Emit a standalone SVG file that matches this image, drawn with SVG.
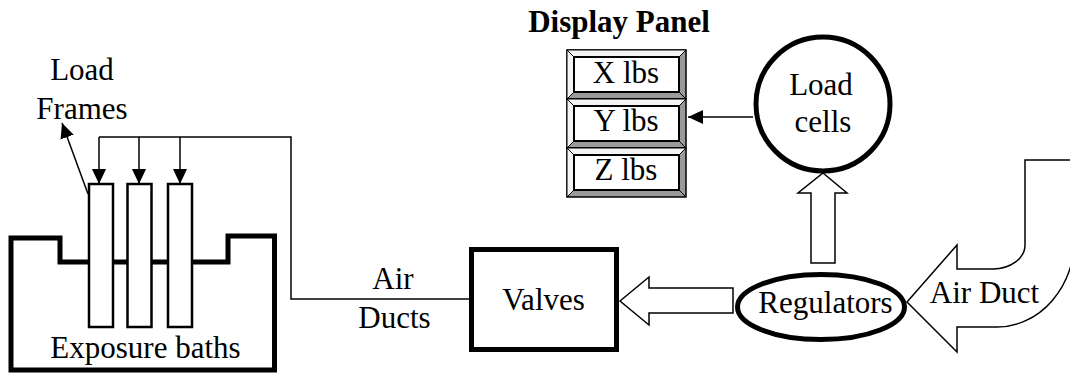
<svg xmlns="http://www.w3.org/2000/svg" width="1070" height="377" viewBox="0 0 1070 377">
<defs>
<style>
.t{font-family:"Liberation Serif","Times New Roman",serif;font-size:31px;fill:#000;text-anchor:middle}
.b{font-weight:bold}
.thick{fill:none;stroke:#000;stroke-width:5}
.ln{fill:none;stroke:#000;stroke-width:1.5}
.blk{fill:#fff;stroke:#000;stroke-width:1.5;stroke-linejoin:miter}
.frame{fill:#fff;stroke:#000;stroke-width:2.5}
.bev{stroke:#000;stroke-width:1}
</style>
<marker id="ah" markerUnits="userSpaceOnUse" markerWidth="16" markerHeight="16" viewBox="0 0 16 16" refX="15" refY="8" orient="auto">
<path d="M0,1 L15,8 L0,15 Z" fill="#000"/>
</marker>
</defs>
<rect width="1070" height="377" fill="#fff"/>

<g id="connectors">
<polyline class="ln" points="99,137 291,137 291,299 469,299"/>
<line class="ln" x1="99" y1="137" x2="99" y2="184" marker-end="url(#ah)"/>
<line class="ln" x1="139" y1="137" x2="139" y2="184" marker-end="url(#ah)"/>
<line class="ln" x1="180" y1="137" x2="180" y2="184" marker-end="url(#ah)"/>
<line class="ln" x1="88" y1="194" x2="62" y2="123" marker-end="url(#ah)"/>
<line class="ln" x1="753" y1="117" x2="688" y2="117" marker-end="url(#ah)"/>
<path class="blk" d="M620,301 L649,277 L649,288 L733,288 L733,313 L649,313 L649,325 Z"/>
<path class="blk" d="M823,173 L847,193 L835,193 L835,263 L811,263 L811,193 L798,193 Z"/>
</g>

<g id="bath">
<path class="thick" d="M11,370 L11,238 L60,238 L60,262 L228,262 L228,236 L274.5,236 L274.5,370 Z"/>
<text class="t" x="145.5" y="358">Exposure baths</text>
</g>

<g id="frames">
<rect class="frame" x="89" y="184" width="24" height="143"/>
<rect class="frame" x="127.5" y="184" width="24" height="143"/>
<rect class="frame" x="168" y="184" width="24" height="143"/>
<text class="t" x="82" y="80">Load</text>
<text class="t" x="82" y="119">Frames</text>
</g>

<g id="air-ducts-label">
<text class="t" x="393" y="289">Air</text>
<text class="t" x="394.5" y="328">Ducts</text>
</g>

<g id="valves">
<rect class="thick" x="471.5" y="249.5" width="145" height="100"/>
<text class="t" x="543.5" y="310">Valves</text>
</g>

<g id="regulators">
<ellipse class="thick" cx="821" cy="307" rx="83.5" ry="32.5"/>
<text class="t" x="825.5" y="313">Regulators</text>
</g>

<g id="load-cells">
<circle class="thick" cx="823" cy="104" r="67"/>
<text class="t" x="821" y="95">Load</text>
<text class="t" x="823" y="132">cells</text>
</g>

<g id="air-duct">
<path class="blk" d="M907,302 L957,245 L957,269 L993,269 A32,24 0 0 0 1025,245 L1025,160 L1085,160 L1085,237 L1075,237 A78,90 0 0 1 997,327 L957,327 L957,352 Z"/>
<text class="t" x="984.5" y="303">Air Duct</text>
</g>

<g id="display-panel">
<text class="t b" x="619" y="32">Display Panel</text>
<g id="cell-x">
<rect x="567" y="50" width="119" height="49" fill="#9a9a9a" stroke="#000" stroke-width="1.5"/>
<path class="bev" fill="#f4f4f4" d="M567,50 L686,50 L679,57 L574,57 Z"/>
<path class="bev" fill="#f4f4f4" d="M567,50 L574,57 L574,92 L567,99 Z"/>
<path class="bev" fill="none" d="M679,92 L686,99"/>
<rect x="574" y="57" width="105" height="35" fill="#fff" stroke="#000" stroke-width="2"/>
<text class="t" x="626" y="83">X lbs</text>
</g>
<g id="cell-y">
<rect x="567" y="99" width="119" height="49" fill="#9a9a9a" stroke="#000" stroke-width="1.5"/>
<path class="bev" fill="#f4f4f4" d="M567,99 L686,99 L679,106 L574,106 Z"/>
<path class="bev" fill="#f4f4f4" d="M567,99 L574,106 L574,141 L567,148 Z"/>
<path class="bev" fill="none" d="M679,141 L686,148"/>
<rect x="574" y="106" width="105" height="35" fill="#fff" stroke="#000" stroke-width="2"/>
<text class="t" x="626" y="131">Y lbs</text>
</g>
<g id="cell-z">
<rect x="567" y="148" width="119" height="49" fill="#9a9a9a" stroke="#000" stroke-width="1.5"/>
<path class="bev" fill="#f4f4f4" d="M567,148 L686,148 L679,155 L574,155 Z"/>
<path class="bev" fill="#f4f4f4" d="M567,148 L574,155 L574,190 L567,197 Z"/>
<path class="bev" fill="none" d="M679,190 L686,197"/>
<rect x="574" y="155" width="105" height="35" fill="#fff" stroke="#000" stroke-width="2"/>
<text class="t" x="626" y="180">Z lbs</text>
</g>
</g>
</svg>
